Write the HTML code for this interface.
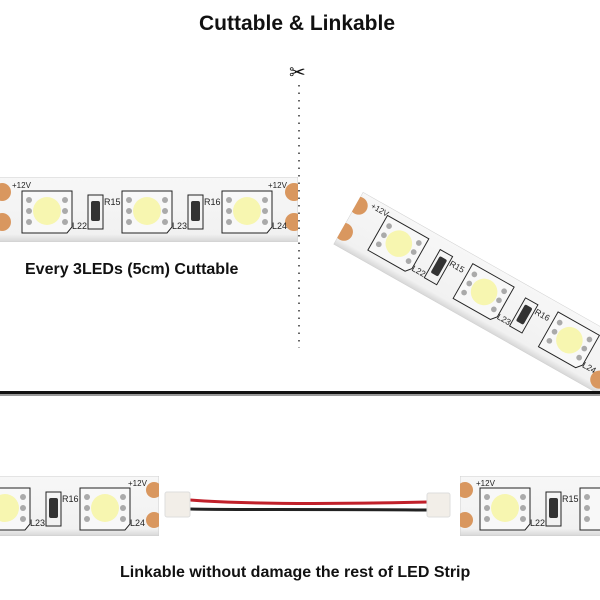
<!DOCTYPE html>
<html><head><meta charset="utf-8"><style>
html,body{margin:0;padding:0;background:#fff;}
body{width:600px;height:600px;overflow:hidden;position:relative;font-family:"Liberation Sans",Arial,sans-serif;}
.t{position:absolute;font-weight:bold;color:#111;white-space:nowrap;}
</style></head><body>
<svg width="600" height="600" viewBox="0 0 600 600" style="position:absolute;left:0;top:0">
<defs>
<linearGradient id="pcb" x1="0" y1="0" x2="0" y2="1">
<stop offset="0" stop-color="#f7f7f7"/><stop offset="0.88" stop-color="#f1f1f1"/><stop offset="1" stop-color="#d6d6d6"/>
</linearGradient>
<clipPath id="c1"><rect x="-5" y="0" width="303" height="65"/></clipPath>
<clipPath id="c2"><rect x="0" y="0" width="340" height="60"/></clipPath>
<clipPath id="c3"><rect x="-5" y="0" width="164" height="60"/></clipPath>
<clipPath id="c4"><rect x="0" y="0" width="150" height="60"/></clipPath>
</defs>

<!-- top strip -->
<g transform="translate(0,177)">
<g clip-path="url(#c1)">
<rect x="-5" y="0" width="303" height="65" fill="url(#pcb)" stroke="#d0d0d0"/>
<circle cx="2" cy="15" r="9" fill="#d9975f"/><circle cx="2" cy="45" r="9" fill="#d9975f"/>
<circle cx="294" cy="15" r="9" fill="#d9975f"/><circle cx="294" cy="45" r="9" fill="#d9975f"/>
</g>
<text x="12" y="11" font-size="8" fill="#222">+12V</text>
<text x="268" y="11" font-size="8" fill="#222">+12V</text>
<g transform="translate(-1,0)">
<path d="M23 14 H73 V50 L68 56 H23 Z" fill="#f8f8f8" stroke="#222"/>
<circle cx="48" cy="34" r="14" fill="#f7f6b0"/>
<circle cx="30" cy="23" r="3" fill="#aaa"/><circle cx="30" cy="34" r="3" fill="#aaa"/><circle cx="30" cy="45" r="3" fill="#aaa"/>
<circle cx="66" cy="23" r="3" fill="#aaa"/><circle cx="66" cy="34" r="3" fill="#aaa"/><circle cx="66" cy="45" r="3" fill="#aaa"/>
<text x="73" y="52" font-size="9" fill="#222">L22</text>
<rect x="89" y="18" width="15" height="34" fill="none" stroke="#222"/>
<rect x="92" y="24" width="9" height="20" rx="2" fill="#333"/>
<text x="105" y="28" font-size="9" fill="#222">R15</text>
</g>
<g transform="translate(99,0)">
<path d="M23 14 H73 V50 L68 56 H23 Z" fill="#f8f8f8" stroke="#222"/>
<circle cx="48" cy="34" r="14" fill="#f7f6b0"/>
<circle cx="30" cy="23" r="3" fill="#aaa"/><circle cx="30" cy="34" r="3" fill="#aaa"/><circle cx="30" cy="45" r="3" fill="#aaa"/>
<circle cx="66" cy="23" r="3" fill="#aaa"/><circle cx="66" cy="34" r="3" fill="#aaa"/><circle cx="66" cy="45" r="3" fill="#aaa"/>
<text x="73" y="52" font-size="9" fill="#222">L23</text>
<rect x="89" y="18" width="15" height="34" fill="none" stroke="#222"/>
<rect x="92" y="24" width="9" height="20" rx="2" fill="#333"/>
<text x="105" y="28" font-size="9" fill="#222">R16</text>
</g>
<g transform="translate(199,0)">
<path d="M23 14 H73 V50 L68 56 H23 Z" fill="#f8f8f8" stroke="#222"/>
<circle cx="48" cy="34" r="14" fill="#f7f6b0"/>
<circle cx="30" cy="23" r="3" fill="#aaa"/><circle cx="30" cy="34" r="3" fill="#aaa"/><circle cx="30" cy="45" r="3" fill="#aaa"/>
<circle cx="66" cy="23" r="3" fill="#aaa"/><circle cx="66" cy="34" r="3" fill="#aaa"/><circle cx="66" cy="45" r="3" fill="#aaa"/>
<text x="73" y="52" font-size="9" fill="#222">L24</text>
</g>
</g>

<!-- dotted cut line -->
<line x1="299" y1="85" x2="299" y2="348" stroke="#333" stroke-width="1.5" stroke-dasharray="1.5,6"/>

<!-- diagonal strip -->
<g transform="translate(363,192) rotate(29.5)">
<g clip-path="url(#c2)">
<rect x="0" y="0" width="340" height="60" fill="url(#pcb)" stroke="#d0d0d0"/>
<circle cx="3" cy="14" r="9" fill="#d9975f"/><circle cx="3" cy="44" r="9" fill="#d9975f"/>
</g>
<text x="14" y="10" font-size="8" fill="#222">+12V</text>
<g transform="translate(11,-5) scale(0.95)">
<path d="M23 14 H73 V50 L68 56 H23 Z" fill="#f8f8f8" stroke="#222"/>
<circle cx="48" cy="34" r="14" fill="#f7f6b0"/>
<circle cx="30" cy="23" r="3" fill="#aaa"/><circle cx="30" cy="34" r="3" fill="#aaa"/><circle cx="30" cy="45" r="3" fill="#aaa"/>
<circle cx="66" cy="23" r="3" fill="#aaa"/><circle cx="66" cy="34" r="3" fill="#aaa"/><circle cx="66" cy="45" r="3" fill="#aaa"/>
<text x="73" y="52" font-size="9" fill="#222">L22</text>
<rect x="89" y="18" width="15" height="34" fill="none" stroke="#222"/>
<rect x="92" y="24" width="9" height="20" rx="2" fill="#333"/>
<text x="105" y="28" font-size="9" fill="#222">R15</text>
</g>
<g transform="translate(109,-5) scale(0.95)">
<path d="M23 14 H73 V50 L68 56 H23 Z" fill="#f8f8f8" stroke="#222"/>
<circle cx="48" cy="34" r="14" fill="#f7f6b0"/>
<circle cx="30" cy="23" r="3" fill="#aaa"/><circle cx="30" cy="34" r="3" fill="#aaa"/><circle cx="30" cy="45" r="3" fill="#aaa"/>
<circle cx="66" cy="23" r="3" fill="#aaa"/><circle cx="66" cy="34" r="3" fill="#aaa"/><circle cx="66" cy="45" r="3" fill="#aaa"/>
<text x="73" y="52" font-size="9" fill="#222">L23</text>
<rect x="89" y="18" width="15" height="34" fill="none" stroke="#222"/>
<rect x="92" y="24" width="9" height="20" rx="2" fill="#333"/>
<text x="105" y="28" font-size="9" fill="#222">R16</text>
</g>
<g transform="translate(207,-5) scale(0.95)">
<path d="M23 14 H73 V50 L68 56 H23 Z" fill="#f8f8f8" stroke="#222"/>
<circle cx="48" cy="34" r="14" fill="#f7f6b0"/>
<circle cx="30" cy="23" r="3" fill="#aaa"/><circle cx="30" cy="34" r="3" fill="#aaa"/><circle cx="30" cy="45" r="3" fill="#aaa"/>
<circle cx="66" cy="23" r="3" fill="#aaa"/><circle cx="66" cy="34" r="3" fill="#aaa"/><circle cx="66" cy="45" r="3" fill="#aaa"/>
<text x="73" y="52" font-size="9" fill="#222">L24</text>
</g>
<circle cx="298" cy="47" r="9" fill="#d9975f"/>
</g>

<!-- divider -->
<rect x="0" y="392" width="600" height="12" fill="#fff"/>
<rect x="0" y="391" width="600" height="3" fill="#111"/>
<rect x="0" y="394" width="600" height="2" fill="#999"/>

<!-- bottom left strip -->
<g transform="translate(0,476)">
<g clip-path="url(#c3)">
<rect x="-5" y="0" width="164" height="60" fill="url(#pcb)" stroke="#d0d0d0"/>
<circle cx="154" cy="14" r="8" fill="#d9975f"/><circle cx="154" cy="44" r="8" fill="#d9975f"/>
</g>
<text x="128" y="10" font-size="8" fill="#222">+12V</text>
<g transform="translate(-43,-2)">
<path d="M23 14 H73 V50 L68 56 H23 Z" fill="#f8f8f8" stroke="#222"/>
<circle cx="48" cy="34" r="14" fill="#f7f6b0"/>
<circle cx="66" cy="23" r="3" fill="#aaa"/><circle cx="66" cy="34" r="3" fill="#aaa"/><circle cx="66" cy="45" r="3" fill="#aaa"/>
<text x="73" y="52" font-size="9" fill="#222">L23</text>
<rect x="89" y="18" width="15" height="34" fill="none" stroke="#222"/>
<rect x="92" y="24" width="9" height="20" rx="2" fill="#333"/>
<text x="105" y="28" font-size="9" fill="#222">R16</text>
</g>
<g transform="translate(57,-2)">
<path d="M23 14 H73 V50 L68 56 H23 Z" fill="#f8f8f8" stroke="#222"/>
<circle cx="48" cy="34" r="14" fill="#f7f6b0"/>
<circle cx="30" cy="23" r="3" fill="#aaa"/><circle cx="30" cy="34" r="3" fill="#aaa"/><circle cx="30" cy="45" r="3" fill="#aaa"/>
<circle cx="66" cy="23" r="3" fill="#aaa"/><circle cx="66" cy="34" r="3" fill="#aaa"/><circle cx="66" cy="45" r="3" fill="#aaa"/>
<text x="73" y="52" font-size="9" fill="#222">L24</text>
</g>
</g>

<!-- wires and connectors -->
<path d="M190 500 C230 503 300 505 428 502" fill="none" stroke="#c0202a" stroke-width="3"/>
<path d="M190 509 C230 510 300 509 428 510" fill="none" stroke="#222" stroke-width="3"/>
<rect x="165" y="492" width="25" height="25" rx="2" fill="#f2eee8" stroke="#ddd"/>
<rect x="427" y="493" width="23" height="24" rx="2" fill="#f2eee8" stroke="#ddd"/>

<!-- bottom right strip -->
<g transform="translate(460,476)">
<g clip-path="url(#c4)">
<rect x="0" y="0" width="150" height="60" fill="url(#pcb)" stroke="#d0d0d0"/>
<circle cx="5" cy="14" r="8" fill="#d9975f"/><circle cx="5" cy="44" r="8" fill="#d9975f"/>
</g>
<text x="16" y="10" font-size="8" fill="#222">+12V</text>
<g transform="translate(-3,-2)">
<path d="M23 14 H73 V50 L68 56 H23 Z" fill="#f8f8f8" stroke="#222"/>
<circle cx="48" cy="34" r="14" fill="#f7f6b0"/>
<circle cx="30" cy="23" r="3" fill="#aaa"/><circle cx="30" cy="34" r="3" fill="#aaa"/><circle cx="30" cy="45" r="3" fill="#aaa"/>
<circle cx="66" cy="23" r="3" fill="#aaa"/><circle cx="66" cy="34" r="3" fill="#aaa"/><circle cx="66" cy="45" r="3" fill="#aaa"/>
<text x="73" y="52" font-size="9" fill="#222">L22</text>
<rect x="89" y="18" width="15" height="34" fill="none" stroke="#222"/>
<rect x="92" y="24" width="9" height="20" rx="2" fill="#333"/>
<text x="105" y="28" font-size="9" fill="#222">R15</text>
<path d="M123 14 H173 V56 H123 Z" fill="#f8f8f8" stroke="#222"/>
<circle cx="130" cy="23" r="3" fill="#aaa"/><circle cx="130" cy="34" r="3" fill="#aaa"/><circle cx="130" cy="45" r="3" fill="#aaa"/>
</g>
</g>
</svg>

<div class="t" style="left:199px;top:12px;font-size:21px;">Cuttable &amp; Linkable</div>
<div class="t" style="left:289px;top:60px;font-size:20px;font-weight:normal;">&#9986;</div>
<div class="t" style="left:25px;top:261px;font-size:16px;">Every 3LEDs (5cm) Cuttable</div>
<div class="t" style="left:120px;top:564px;font-size:16px;">Linkable without damage the rest of LED Strip</div>
</body></html>
